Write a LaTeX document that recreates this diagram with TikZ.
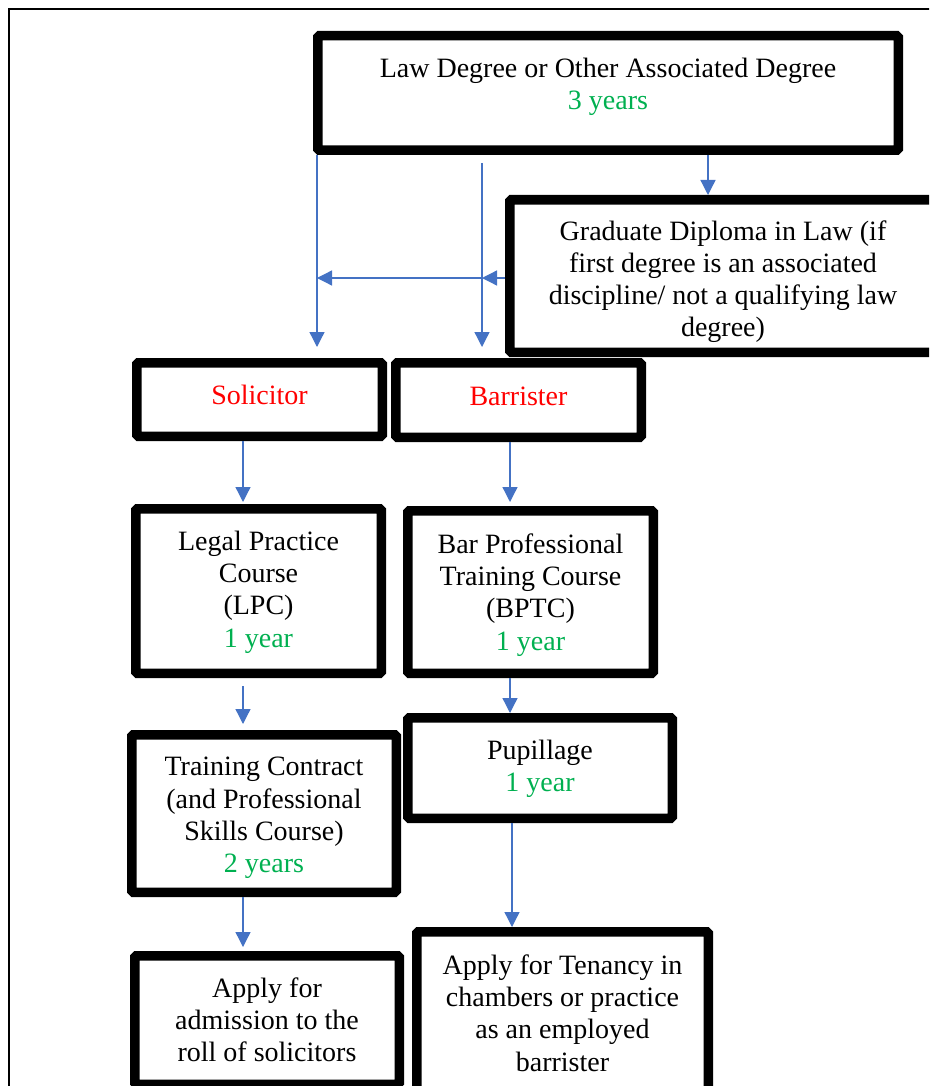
\documentclass[tikz,border=0pt]{standalone}
\usepackage{fontspec}
\setmainfont{Liberation Serif}
\usetikzlibrary{arrows.meta}
\definecolor{flowblue}{HTML}{4472C4}
\definecolor{yeargreen}{HTML}{00B050}
\definecolor{rolered}{HTML}{FF0000}
\newcommand{\yrs}[1]{\textcolor{yeargreen}{#1}}
% struts that move the text of a box a little down (headgap) or up (tailgap)
\newcommand{\headgap}[1]{\rule{0pt}{#1}}
\newcommand{\tailgap}[1]{\rule[-#1]{0pt}{#1}}

\tikzset{
  stagebox/.style={draw, line width=9.5pt, rounded corners=1.5pt, align=center,
    inner sep=0pt, font=\fontsize{28}{32.2}\selectfont},
  route/.style={draw=flowblue, line width=1.3pt, -{Triangle[length=15pt,width=15pt]}},
}

\begin{document}
\begin{tikzpicture}[x=1pt,y=-1pt]
    \clip (0,0) rectangle (929,1086);
    \draw[line width=1.2pt] (9,1100) -- (9,9) -- (940,9);

    \node[stagebox, minimum width=580.5pt, minimum height=114.5pt] (deg) at (608,93)
        {Law Degree or Other Associated Degree\\ \yrs{3 years}\tailgap{18pt}};
    \node[stagebox, minimum width=426.5pt, minimum height=152.5pt] (gdl) at (723,276)
        {\headgap{31pt}Graduate Diploma in Law (if\\ first degree is an associated\\ discipline/ not a qualifying law\\ degree)};
    \node[stagebox, text=rolered, minimum width=245.5pt, minimum height=73.5pt] (sol) at (259.5,399.5) {Solicitor\tailgap{10pt}};
    \node[stagebox, text=rolered, minimum width=245.5pt, minimum height=74.5pt] (bar) at (518.5,400) {Barrister\tailgap{8pt}};
    \node[stagebox, minimum width=245.5pt, minimum height=164.5pt] (lpc) at (258.5,591)
        {\headgap{21.5pt}Legal Practice\\ Course\\ (LPC)\\ \yrs{1 year}};
    \node[stagebox, minimum width=245.5pt, minimum height=162.5pt] (bptc) at (530.5,592)
        {\headgap{25.5pt}Bar Professional\\ Training Course\\ (BPTC)\\ \yrs{1 year}};
    \node[stagebox, minimum width=264.5pt, minimum height=157.5pt] (tc) at (264,813.5)
        {\headgap{27.5pt}Training Contract\\ (and Professional\\ Skills Course)\\ \yrs{2 years}};
    \node[stagebox, minimum width=264.5pt, minimum height=100.5pt] (pup) at (540,768)
        {\headgap{21.5pt}Pupillage\\ \yrs{1 year}};
    \node[stagebox, minimum width=264.5pt, minimum height=128.5pt] (adm) at (267,1020)
        {Apply for\\ admission to the\\ roll of solicitors};
    \node[stagebox, minimum width=291.5pt, minimum height=162.5pt] (ten) at (562.5,1013)
        {Apply for Tenancy in\\ chambers or practice\\ as an employed\\ barrister};

    \coordinate (lawcol) at (317,347);
    \coordinate (barcol) at (482,347);
    \coordinate (barstart) at (482,163);
    \coordinate (gdljoin) at (482,278);
    \coordinate (gdlcol) at (708,0);
    \coordinate (solcol) at (243,0);
    \coordinate (bptccol) at (510,0);
    \coordinate (pupcol) at (512,0);

    \draw[route] (deg.south -| lawcol) -- (lawcol);
    \draw[route] (barstart) -- (barcol);
    \draw[route] (deg.south -| gdlcol) -- (gdl.north -| gdlcol);
    \draw[route] (gdl.west |- gdljoin) -- (gdljoin);
    \draw[route] (gdljoin) -- (lawcol |- gdljoin);

    \draw[route, shorten >=2pt] (sol.south -| solcol) -- (lpc.north -| solcol);
    \draw[route, shorten <=8pt, shorten >=6pt] (lpc.south -| solcol) -- (tc.north -| solcol);
    \draw[route, shorten >=4pt] (tc.south -| solcol) -- (adm.north -| solcol);
    \draw[route, shorten >=4pt] (bar.south -| bptccol) -- (bptc.north -| bptccol);
    \draw[route] (bptc.south -| bptccol) -- (pup.north -| bptccol);
    \draw[route] (pup.south -| pupcol) -- (ten.north -| pupcol);
\end{tikzpicture}
\end{document}
